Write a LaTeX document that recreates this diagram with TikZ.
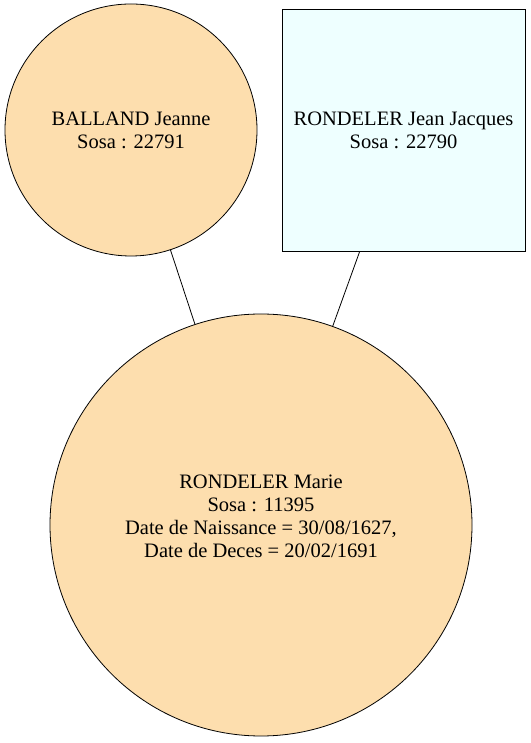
\documentclass[tikz,border=0pt]{standalone}
\usepackage{fontspec}
\setmainfont{Liberation Serif}
\definecolor{sosaorange}{RGB}{253,222,174}
\definecolor{sosaazure}{RGB}{238,255,255}
\begin{document}
\begin{tikzpicture}[x=1pt,y=1pt,
  person/.style = {draw, line width=0.8pt, align=center, inner sep=0pt,
    font=\fontsize{20.5}{23}\selectfont},
  mother/.style = {person, circle, fill=sosaorange},
  father/.style = {person, rectangle, fill=sosaazure}]
  \useasboundingbox (0,0) rectangle (530,743);

  \node[mother] (jeanne) at (131,613) [minimum size=252pt] {BALLAND Jeanne\\Sosa : 22791};
  \node[father] (jeanjacques) [right of=jeanne, node distance=272.5pt, minimum width=243pt, minimum height=242pt] {RONDELER Jean Jacques\\Sosa : 22790};

  \node[mother] (marie) at (261,218) [minimum size=422pt, text depth=17pt] {RONDELER Marie\\Sosa : 11395\\Date de Naissance = 30/08/1627,\\Date de Deces = 20/02/1691};

  \draw [line width=0.8pt] (jeanne) -- (marie);
  \draw [line width=0.8pt] (jeanjacques) -- (marie);
\end{tikzpicture}
\end{document}
